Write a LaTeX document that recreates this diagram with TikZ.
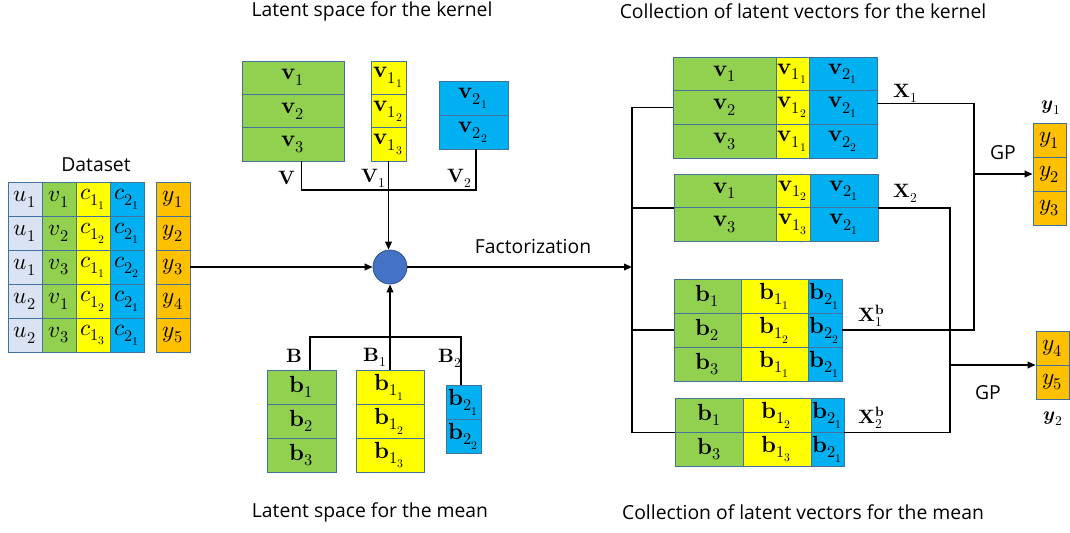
\documentclass[tikz,border=0pt]{standalone}
\usepackage{fontspec}
\usepackage{unicode-math}
\setmainfont{Open Sans}
\setmathfont{latinmodern-math.otf}
\usetikzlibrary{arrows.meta}
\definecolor{cLB}{HTML}{DAE3F3}
\definecolor{cG}{HTML}{92D050}
\definecolor{cY}{HTML}{FFFF00}
\definecolor{cB}{HTML}{00B0F0}
\definecolor{cO}{HTML}{FFC000}
\definecolor{cBd}{HTML}{41719C}
\definecolor{cCirc}{HTML}{4472C4}
\definecolor{cCircBd}{HTML}{2F528F}
\tikzset{
  cell/.style={draw=cBd, line width=0.6pt, inner sep=0pt, font=\fontsize{17.5}{20}\selectfont},
  conn/.style={line width=1.2pt, black},
  arr/.style={conn, -{Triangle[length=6pt,width=5pt]}},
  txt/.style={inner sep=0pt, font=\fontsize{14.5}{17}\selectfont},
  lbl/.style={inner sep=0pt, font=\fontsize{14.5}{17}\selectfont},
}
\newcommand\mkcol[7]{%
  \foreach \cc [count=\i] in {#7}{%
    \node[cell, fill=#6, minimum width={(#3-#2)*0.75pt}, minimum height={#5*0.75pt}]
      (#1-\i) at ({(#2+#3)/2},{#4+(\i-0.5)*#5}) {$\cc$};
  }}
\begin{document}
\begin{tikzpicture}[x=0.75pt,y=-0.75pt]
\useasboundingbox (0,0) rectangle (1070,532);

% titles
\node[txt] (t1) at (372,11) {Latent space for the kernel};
\node[txt] (t2) at (803,11) {Collection of latent vectors for the kernel};
\node[txt] (t3) at (370,512) {Latent space for the mean};
\node[txt] (t4) at (803,512) {Collection of latent vectors for the mean};
\node[txt] (tds) at (96,165) {Dataset};

% dataset
\mkcol{du}{8}{42}{182}{34}{cLB}{u_1,u_1,u_1,u_2,u_2}
\mkcol{dv}{42}{76}{182}{34}{cG}{v_1,v_2,v_3,v_1,v_3}
\mkcol{dc}{76}{110}{182}{34}{cY}{c_{1_1},c_{1_2},c_{1_1},c_{1_2},c_{1_3}}
\mkcol{dd}{110}{144}{182}{34}{cB}{c_{2_1},c_{2_1},c_{2_2},c_{2_1},c_{2_1}}
\mkcol{dy}{156}{190}{182}{34}{cO}{y_1,y_2,y_3,y_4,y_5}

% latent space kernel
\mkcol{V}{242}{344}{61}{33.33}{cG}{\symbf{v}_1,\symbf{v}_2,\symbf{v}_3}
\mkcol{Va}{371}{406}{61}{33.33}{cY}{\symbf{v}_{1_1},\symbf{v}_{1_2},\symbf{v}_{1_3}}
\mkcol{Vb}{439}{508}{81}{34}{cB}{\symbf{v}_{2_1},\symbf{v}_{2_2}}

% latent space mean
\mkcol{B}{267}{336}{370}{34}{cG}{\symbf{b}_1,\symbf{b}_2,\symbf{b}_3}
\mkcol{Ba}{356}{424}{370}{34}{cY}{\symbf{b}_{1_1},\symbf{b}_{1_2},\symbf{b}_{1_3}}
\mkcol{Bb}{446}{481}{385}{34}{cB}{\symbf{b}_{2_1},\symbf{b}_{2_2}}

% circle
\node[circle, fill=cCirc, draw=cCircBd, line width=0.6pt, minimum size=25.5pt, inner sep=0pt] (c) at (390,267) {};

% collections
\mkcol{Xa}{673}{776}{57}{33.67}{cG}{\symbf{v}_1,\symbf{v}_2,\symbf{v}_3}
\mkcol{Xb}{776}{809}{57}{33.67}{cY}{\symbf{v}_{1_1},\symbf{v}_{1_2},\symbf{v}_{1_1}}
\mkcol{Xc}{809}{877}{57}{33.67}{cB}{\symbf{v}_{2_1},\symbf{v}_{2_1},\symbf{v}_{2_2}}

\mkcol{Ya}{674}{776}{174}{33.5}{cG}{\symbf{v}_1,\symbf{v}_3}
\mkcol{Yb}{776}{810}{174}{33.5}{cY}{\symbf{v}_{1_2},\symbf{v}_{1_3}}
\mkcol{Yc}{810}{878}{174}{33.5}{cB}{\symbf{v}_{2_1},\symbf{v}_{2_1}}

\mkcol{Za}{674}{741}{279}{34}{cG}{\symbf{b}_1,\symbf{b}_2,\symbf{b}_3}
\mkcol{Zb}{741}{808}{279}{34}{cY}{\symbf{b}_{1_1},\symbf{b}_{1_2},\symbf{b}_{1_1}}
\mkcol{Zc}{808}{842}{279}{34}{cB}{\symbf{b}_{2_1},\symbf{b}_{2_2},\symbf{b}_{2_1}}

\mkcol{Wa}{675}{743}{398}{34}{cG}{\symbf{b}_1,\symbf{b}_3}
\mkcol{Wb}{743}{811}{398}{34}{cY}{\symbf{b}_{1_2},\symbf{b}_{1_3}}
\mkcol{Wc}{811}{844}{398}{34}{cB}{\symbf{b}_{2_1},\symbf{b}_{2_1}}

% outputs
\mkcol{Oa}{1033}{1066}{123}{34}{cO}{y_1,y_2,y_3}
\mkcol{Ob}{1036}{1069}{331}{34}{cO}{y_4,y_5}

% helper coordinates
\coordinate (jtop) at (390,190);
\coordinate (jbot) at (390,337);
\coordinate (bx) at (632,267);
\coordinate (rxa) at (974,174);
\coordinate (rxb) at (950,365);

% connectors: kernel latent
\draw[conn] ([xshift=6.5pt]V-3.south) |- (jtop) -| ([xshift=1.9pt]Vb-2.south);
\draw[arr] (Va-3.south) -- (Va-3.south |- c.north);
% connectors: mean latent
\draw[conn] ([xshift=6.4pt]B-1.north) |- (jbot) -| ([xshift=-1.9pt]Bb-1.north);
\draw[arr] (Ba-1.north) -- (Ba-1.north |- c.south);
% dataset to circle
\draw[arr] (dy-3.east) -- (c.west);
% factorization
\draw[arr] (c.east) -- (bx);
\node[txt] (tf) at (533,246) {Factorization};
% bus
\draw[conn] (Xa-2.west) -- (Xa-2.west -| bx) -- (Wa-1.south west -| bx) -- (Wa-1.south west);
\draw[conn] (Ya-1.south west -| bx) -- (Ya-1.south west);
\draw[conn] (Za-2.west -| bx) -- (Za-2.west);
% right side
\draw[conn] ([yshift=3pt]Xc-2.east) -| (rxa) |- (Zc-2.east);
\draw[arr] (rxa) -- (Oa-2.west);
\draw[conn] (Yc-1.south east) -| (rxb) |- (Wc-1.south east);
\draw[arr] (rxb) -- (rxb -| Ob-1.west);

% labels
\node[lbl, anchor=east] (lV) at (296,178) {$\symbf{V}$};
\node[lbl, anchor=east] (lV1) at (386,178) {$\symbf{V}_1$};
\node[lbl, anchor=east] (lV2) at (472,178) {$\symbf{V}_2$};
\node[lbl] (lB) at (294,356) {$\symbf{B}$};
\node[lbl] (lB1) at (375,357) {$\symbf{B}_1$};
\node[lbl] (lB2) at (450,358) {$\symbf{B}_2$};
\node[lbl] (lX1) at (906,93) {$\symbf{X}_1$};
\node[lbl] (lX2) at (906,193) {$\symbf{X}_2$};
\node[lbl] (lX3) at (872,316) {$\symbf{X}_1^{\symbf{b}}$};
\node[lbl] (lX4) at (872,418) {$\symbf{X}_2^{\symbf{b}}$};
\node[txt] (gp1) at (1003,153) {GP};
\node[txt] (gp2) at (988,393) {GP};
\node[lbl] (ly1) at (1051,108) {$\symbfit{y}_1$};
\node[lbl] (ly2) at (1053,419) {$\symbfit{y}_2$};
\end{tikzpicture}
\end{document}
